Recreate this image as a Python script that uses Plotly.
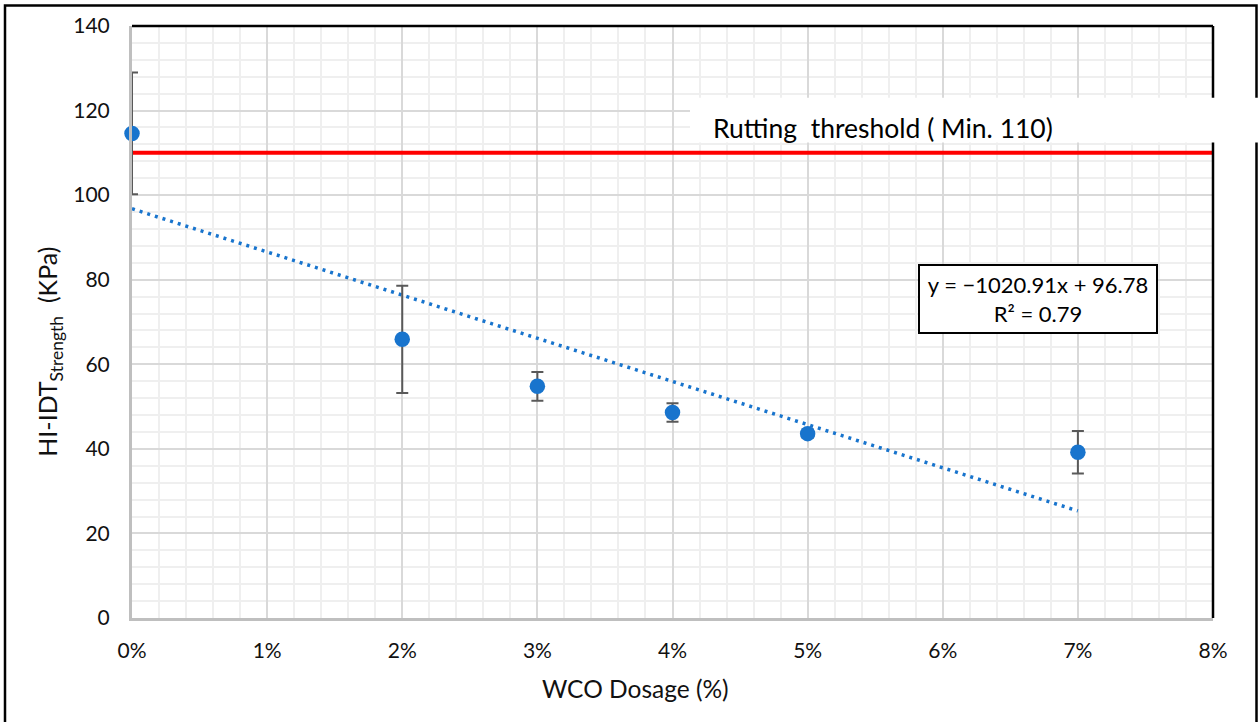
import plotly.graph_objects as go

# ---- data ----
wco_dosage = [0.00, 0.02, 0.03, 0.04, 0.05, 0.07]
idt_strength = [114.6, 65.9, 54.8, 48.6, 43.6, 39.2]
idt_error = [14.4, 12.7, 3.4, 2.2, 1.0, 5.0]
trend_slope = -1020.91
trend_intercept = 96.78
trend_r2 = 0.79
rutting_threshold = 110
x_ticks = [0.00, 0.01, 0.02, 0.03, 0.04, 0.05, 0.06, 0.07, 0.08]
y_ticks = [0, 20, 40, 60, 80, 100, 120, 140]

FONT = "Lato"
BLUE = "#1874CD"

fig = go.Figure()

# threshold line
fig.add_trace(go.Scatter(
    x=[x_ticks[0], x_ticks[-1]], y=[rutting_threshold, rutting_threshold],
    mode="lines", line=dict(color="#FF0000", width=4), showlegend=False,
    hoverinfo="skip", cliponaxis=False))

# trend line
tx = [min(wco_dosage), max(wco_dosage)]
ty = [trend_slope * v + trend_intercept for v in tx]
fig.add_trace(go.Scatter(
    x=tx, y=ty, mode="lines",
    line=dict(color=BLUE, width=3.5, dash="3px,5px"), showlegend=False))

# data points
fig.add_trace(go.Scatter(
    x=wco_dosage, y=idt_strength, mode="markers",
    marker=dict(color=BLUE, size=15.5),
    error_y=dict(type="data", array=idt_error, color="#595959",
                 thickness=2, width=6),
    showlegend=False, cliponaxis=False))

# frame geometry (paper coordinates)
L, R, T, B = 132, 1213, 24, 618.3
pw, ph = R - L, B - T
def px(xp):
    return (xp - L) / pw
def py(yp):
    return (B - yp) / ph

shapes = [
    # top & right black plot border
    dict(type="line", xref="paper", yref="paper", x0=0, x1=1, y0=1, y1=1,
         line=dict(color="black", width=2.5)),
    dict(type="line", xref="paper", yref="paper", x0=1, x1=1, y0=0, y1=1,
         line=dict(color="black", width=2.5)),
    # outer chart frame
    dict(type="rect", xref="paper", yref="paper",
         x0=px(5), x1=px(1256.5), y0=py(740), y1=py(3.5),
         line=dict(color="black", width=2.5), fillcolor="rgba(0,0,0,0)"),
    # white label box for threshold text
    dict(type="rect", xref="paper", yref="paper",
         x0=px(690), x1=px(1262), y0=py(141), y1=py(96),
         line=dict(width=0), fillcolor="white"),
]

annotations = [
    dict(xref="paper", yref="paper", x=px(711), y=py(126),
         xanchor="left", yanchor="middle", showarrow=False,
         text="Rutting  threshold ( Min. 110)",
         font=dict(family=FONT, size=26.5, color="black")),
    dict(xref="paper", yref="paper", x=px(1037.5), y=py(298.5),
         xanchor="center", yanchor="middle", showarrow=False,
         text=f"y = \u2212{abs(trend_slope):.2f}x + {trend_intercept:.2f}<br>R\u00b2 = {trend_r2:.2f}",
         font=dict(family=FONT, size=22, color="black"),
         bordercolor="black", borderwidth=2, bgcolor="white",
         width=234, height=64, align="center"),
    # axis titles
    dict(xref="paper", yref="paper", x=px(635), y=py(689),
         xanchor="center", yanchor="middle", showarrow=False,
         text="WCO Dosage (%)",
         font=dict(family=FONT, size=24.5, color="#111111")),
    dict(xref="paper", yref="paper", x=px(49), y=py(351),
         xanchor="center", yanchor="middle", showarrow=False, textangle=-90,
         text="HI-IDT<sub>Strength</sub>  (KPa)",
         font=dict(family=FONT, size=25, color="#111111")),
]

fig.update_layout(
    width=1258, height=722,
    margin=dict(l=L, r=1258 - R, t=T, b=722 - B),
    paper_bgcolor="white", plot_bgcolor="white",
    font=dict(family=FONT, size=21, color="#111111"),
    shapes=shapes, annotations=annotations,
    showlegend=False,
)

fig.update_xaxes(
    range=[x_ticks[0], x_ticks[-1]], tickvals=x_ticks, tickformat=".0%",
    tickfont=dict(size=21),
    showgrid=True, gridcolor="#d9d9d9", gridwidth=2,
    minor=dict(dtick=0.002, showgrid=True, gridcolor="#efefef", gridwidth=2),
    showline=True, linecolor="#bfbfbf", linewidth=3,
    zeroline=False, ticks="", ticklabelstandoff=12,
)
fig.update_yaxes(
    range=[y_ticks[0], y_ticks[-1]], tickvals=y_ticks,
    tickfont=dict(size=21),
    showgrid=True, gridcolor="#d9d9d9", gridwidth=2,
    minor=dict(dtick=4, showgrid=True, gridcolor="#efefef", gridwidth=2),
    showline=True, linecolor="#bfbfbf", linewidth=3,
    zeroline=False, ticks="", ticklabelstandoff=15,
)

fig.write_html("out.html")
